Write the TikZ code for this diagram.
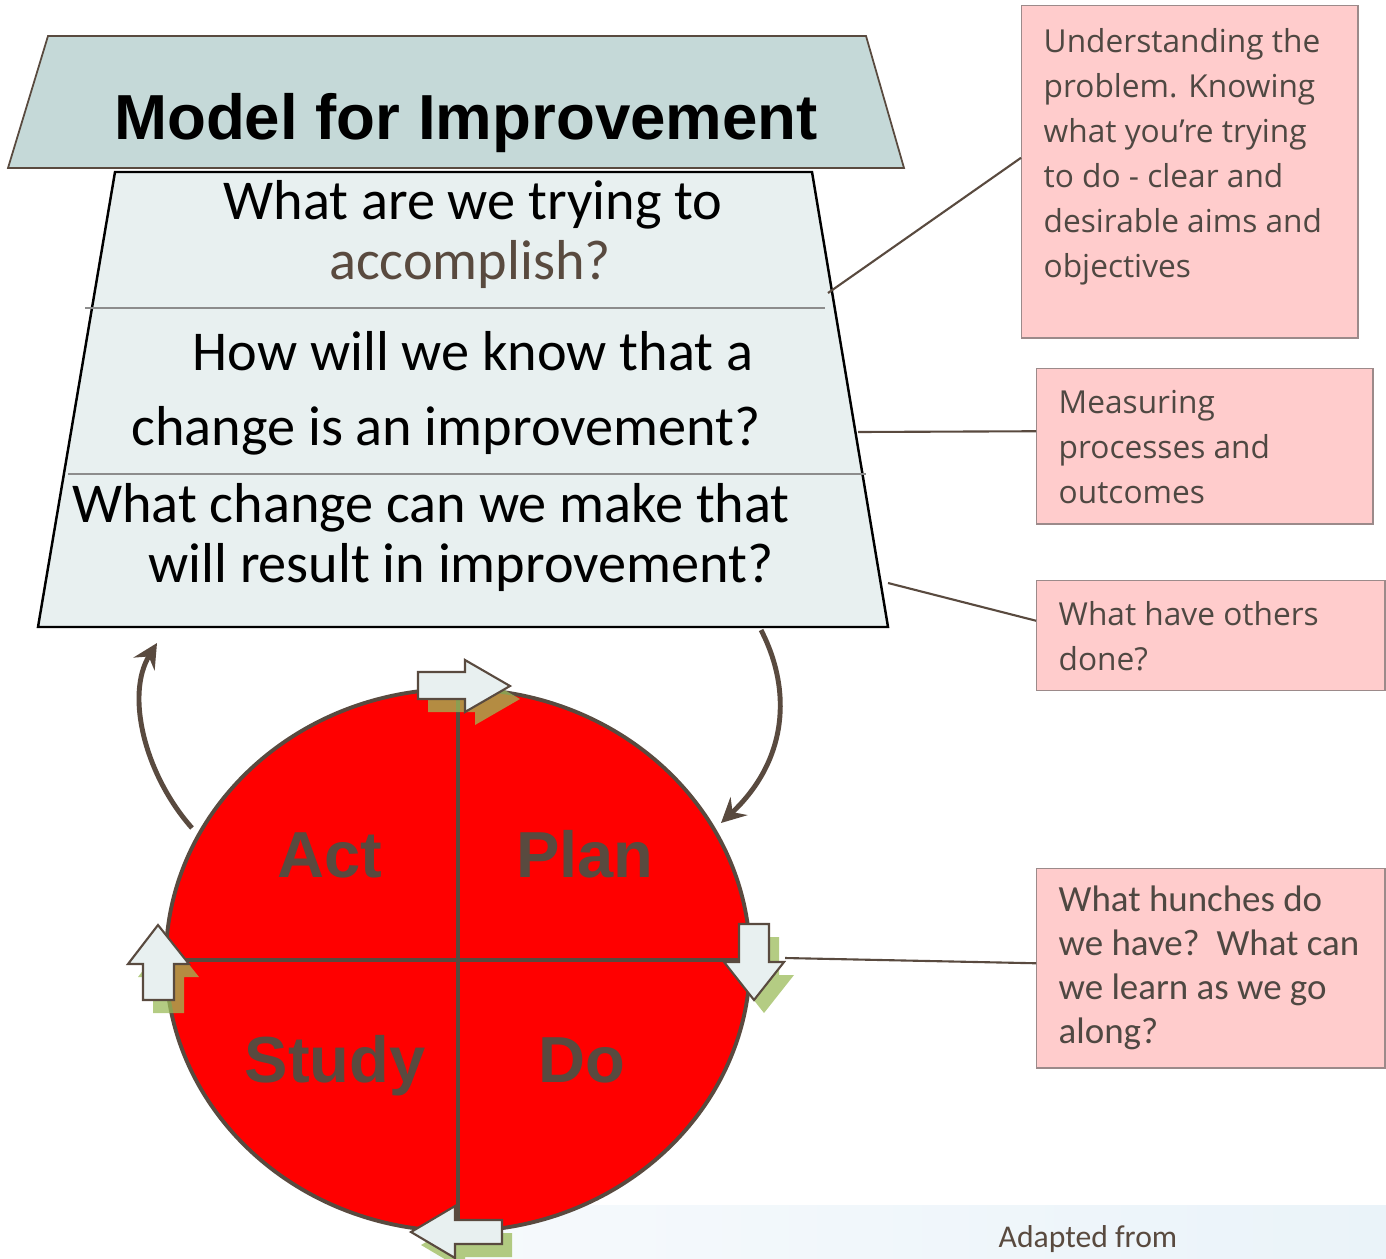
\documentclass[tikz,border=0pt]{standalone}
\usepackage{fontspec}
\setmainfont{Carlito}
\newfontfamily\headfont{Liberation Sans}
\newfontfamily\notefont{Open Sans}
\usetikzlibrary{arrows.meta,shapes.geometric}

\definecolor{pdsabrown}{HTML}{594A3F}
\definecolor{titlefill}{HTML}{C5D9D8}
\definecolor{askfill}{HTML}{E8F0F0}
\definecolor{notefill}{HTML}{FFCCCC}
\definecolor{noteedge}{HTML}{9C8A8A}
\definecolor{notetext}{HTML}{4F4842}
\definecolor{shadowgreen}{HTML}{9BBB59}
\definecolor{bandblue}{HTML}{EAF3F9}

\begin{document}
\begin{tikzpicture}[
        x=0.01cm, y=-0.01cm,
        question/.style={anchor=base, inner sep=0pt, font=\fontsize{16}{19}\selectfont},
        phase/.style={anchor=base, inner sep=0pt, text=pdsabrown, font=\headfont\bfseries\fontsize{18.5}{20}\selectfont},
        notebox/.style={draw=noteedge, fill=notefill, line width=0.4pt, anchor=north west, inner sep=0pt},
        notetext/.style={anchor=north west, inner sep=0pt, align=left, text=notetext, font=\notefont\fontsize{9}{12.8}\selectfont},
        leader/.style={draw=pdsabrown, line width=0.6pt},
        cyclearrow/.style={draw=pdsabrown, line width=1.4pt, -{Stealth[length=7pt, width=7pt, inset=2.5pt]}},
        blockarrow/.style={draw=pdsabrown, fill=askfill, line width=0.6pt},
        blockshadow/.style={draw=none, fill=shadowgreen, opacity=0.75, shift={(10,13)}},
        divider/.style={draw=gray!90, line width=0.8pt}
    ]
        \useasboundingbox (0,0) rectangle (1386,1258);
        % footer band
        \shade[left color=bandblue!40, right color=bandblue] (430,1205) rectangle (1386,1258);
        \node[anchor=base west, inner sep=0pt, text=pdsabrown, font=\fontsize{9}{10}\selectfont] (credit) at (998,1247) {Adapted from};

        % heading and the three questions
        \draw[draw=pdsabrown, fill=titlefill, line width=0.5pt] (48,36) -- (866,36) -- (904,168) -- (8,168) -- cycle;
        \node[anchor=base, inner sep=0pt, font=\headfont\bfseries\fontsize{18.1}{20}\selectfont] (heading) at (466,140) {Model for Improvement};
        \draw[fill=askfill, line width=0.7pt] (115,172) -- (812,172) -- (888,627) -- (38,627) -- cycle;
        \draw[divider] (85,308) -- (825,308);
        \draw[divider] (68,474) -- (866,474);
        \node[question] (aimA) at (473,220) {What are we trying to};
        \node[question, text=pdsabrown] (aimB) at (470,280) {accomplish?};
        \node[question] (measureA) at (473,370) {How will we know that a};
        \node[question] (measureB) at (446,445) {change is an improvement?};
        \node[question] (changeA) at (431,522) {What change can we make that};
        \node[question] (changeB) at (461,582) {will result in improvement?};

        % PDSA cycle
        \node[draw=pdsabrown, fill=red, ellipse, line width=1.1pt, minimum width=5.84cm, minimum height=5.42cm, inner sep=0pt] (pdsa) at (458,960) {};
        \draw[pdsabrown, line width=1.1pt] (pdsa.north) -- (pdsa.south);
        \draw[pdsabrown, line width=1.1pt] (pdsa.west) -- (pdsa.east);
        \node[phase] (act) at (330,877) {Act};
        \node[phase] (plan) at (585,877) {Plan};
        \node[phase] (study) at (335,1082) {Study};
        \node[phase] (do) at (582,1082) {Do};
        \foreach \look in {blockshadow, blockarrow} {
            \draw[\look] (418,672) -- (465,672) -- (465,660) -- (510,686) -- (465,712) -- (465,699) -- (418,699) -- cycle;
            \draw[\look] (739,924) -- (769,924) -- (769,962) -- (784,962) -- (754,1000) -- (724,962) -- (739,962) -- cycle;
            \draw[\look] (502,1220) -- (455,1220) -- (455,1206) -- (411,1232) -- (455,1258) -- (455,1244) -- (502,1244) -- cycle;
            \draw[\look] (143,1000) -- (143,964) -- (128,964) -- (158,925) -- (189,964) -- (174,964) -- (174,1000) -- cycle;
        }
        \draw[cyclearrow] (192,828) .. controls (145,775) and (125,695) .. (157,643);
        \draw[cyclearrow] (761,630) .. controls (792,690) and (788,760) .. (721,823);

        % notes on the right
        \node[notebox, minimum width=3.36cm, minimum height=3.32cm] (aim) at (1021,5) {};
        \node[notetext] (aimtext) at (1043,28) {Understanding the\\problem. Knowing\\what you’re trying\\to do - clear and\\desirable aims and\\objectives};
        \node[notebox, minimum width=3.36cm, minimum height=1.55cm] (measure) at (1036,368) {};
        \node[notetext] (measuretext) at (1058,390) {Measuring\\processes and\\outcomes};
        \node[notebox, minimum width=3.48cm, minimum height=1.10cm] (others) at (1036,580) {};
        \node[notetext] (otherstext) at (1058,601) {What have others\\done?};
        \node[notebox, minimum width=3.48cm, minimum height=1.99cm] (hunch) at (1036,868) {};
        \node[notetext, font=\fontsize{10.5}{12.5}\selectfont] (hunchtext) at (1058,885) {What hunches do\\we have?\ \ What can\\we learn as we go\\along?};

        \coordinate (aimend) at (828,293);
        \coordinate (measureend) at (858,432);
        \coordinate (othersend) at (888,583);
        \coordinate (hunchend) at (785,958);
        \draw[leader] ([yshift=0.14cm]aim.west) -- (aimend);
        \draw[leader] ([yshift=0.15cm]measure.west) -- (measureend);
        \draw[leader] ([yshift=0.15cm]others.west) -- (othersend);
        \draw[leader] ([yshift=0.05cm]hunch.west) -- (hunchend);
    \end{tikzpicture}
\end{document}
